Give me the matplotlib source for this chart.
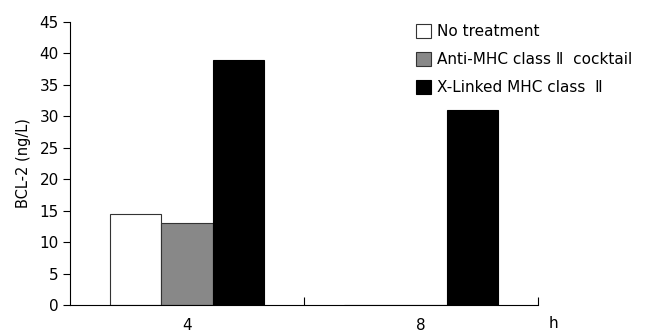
import numpy as np
import matplotlib.pyplot as plt

# BCL-2 by time point
hours = ["4", "8"]
no_treatment = [14.5, 0]
anti_mhc = [13.1, 0]
x_linked = [38.9, 31.0]
series_labels = ["No treatment", "Anti-MHC class \u2161  cocktail", "X-Linked MHC class  \u2161"]

fig = plt.figure(figsize=(6.49, 3.32), dpi=100)
ax = fig.add_axes([0.108, 0.081, 0.721, 0.853])

x = np.arange(len(hours))
w = 0.22
b1 = ax.bar(x - w, no_treatment, w, color="white", edgecolor="#333333", linewidth=0.8, label=series_labels[0])
b2 = ax.bar(x, anti_mhc, w, color="#888888", edgecolor="#333333", linewidth=0.8, label=series_labels[1])
b3 = ax.bar(x + w, x_linked, w, color="black", edgecolor="black", linewidth=0.8, label=series_labels[2])

ax.set_xlim(-0.5, 1.5)
ax.set_ylim(0, 45)
ax.set_yticks(range(0, 46, 5))
ax.set_xticks(x)
ax.set_xticklabels(hours)
ax.set_xticks([0.5, 1.5], minor=True)
ax.tick_params(axis="x", which="major", length=0, pad=9, labelsize=11)
ax.tick_params(axis="x", which="minor", direction="in", length=6, width=0.8)
ax.tick_params(axis="y", direction="out", length=5, width=0.8, labelsize=11, pad=3)
for s in ["top", "right"]:
    ax.spines[s].set_visible(False)
for s in ["left", "bottom"]:
    ax.spines[s].set_linewidth(0.8)

ax.set_ylabel("BCL-2 (ng/L)", fontsize=10.5, labelpad=6)
fig.text(0.852, 0.025, "h", fontsize=11, ha="center", va="center")

ax.legend(handles=[b1, b2, b3], loc="upper left", bbox_to_anchor=(0.71, 1.04),
          frameon=False, fontsize=11, handlelength=0.95, handleheight=0.95,
          handletextpad=0.45, labelspacing=0.85)

fig.savefig("out.png", dpi=100)
